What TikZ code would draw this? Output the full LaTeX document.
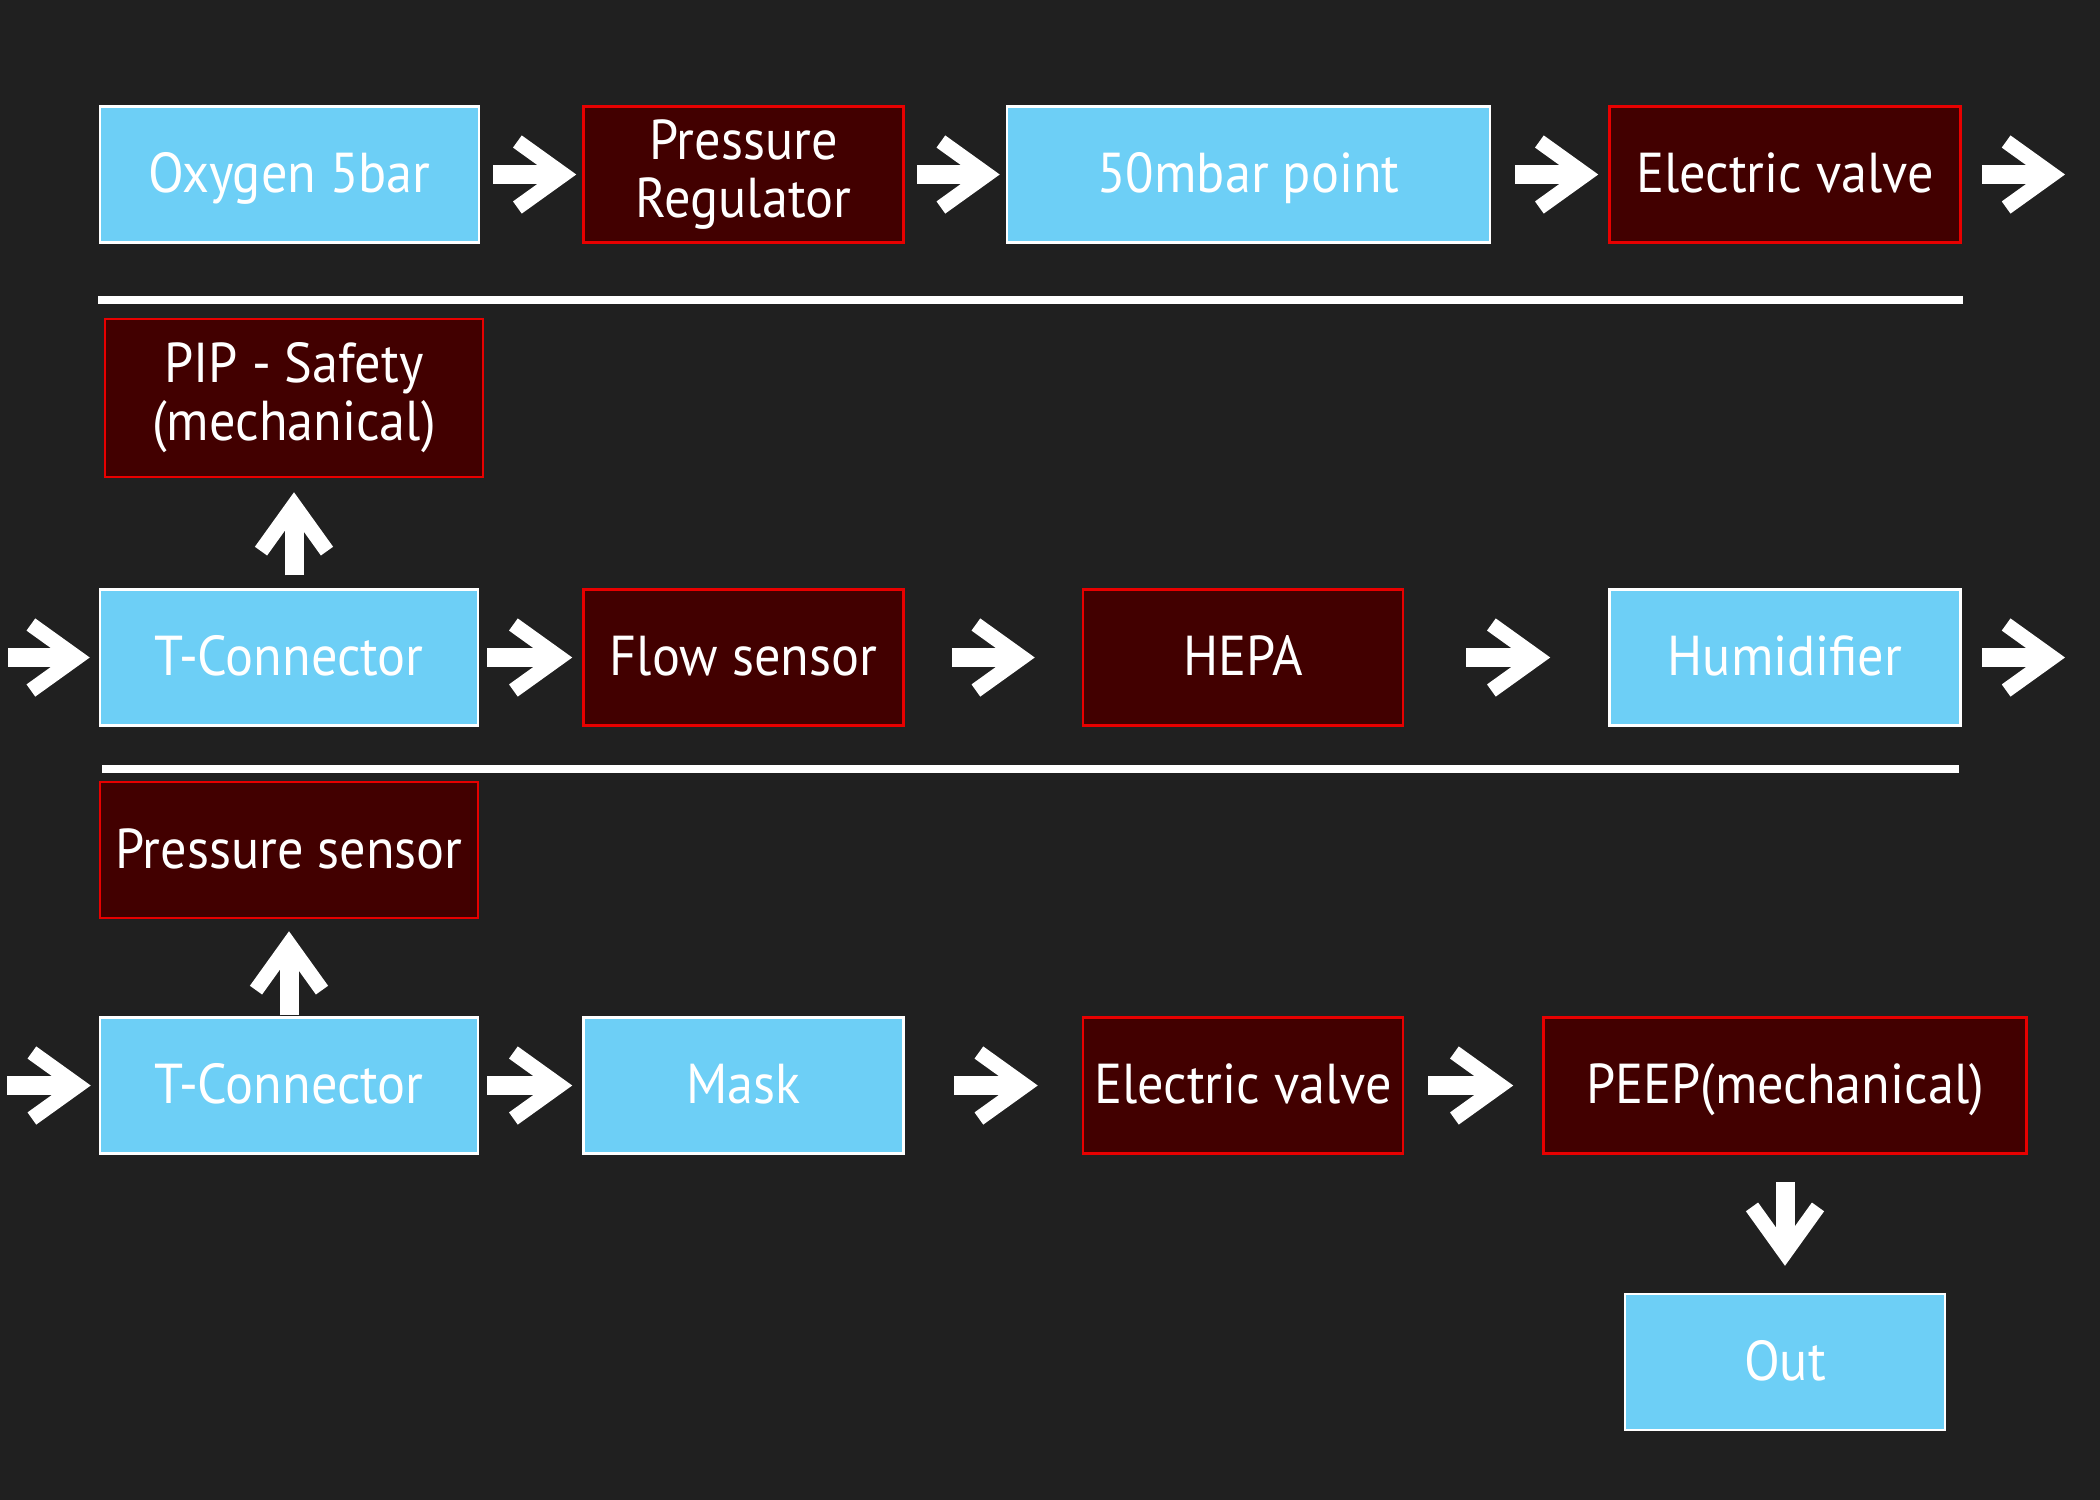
\documentclass[tikz,border=0pt]{standalone}
\usepackage{fontspec}
\setmainfont{PT Sans}[FakeStretch=0.93]
\usetikzlibrary{arrows.meta,positioning}
\definecolor{slate}{HTML}{202020}
\definecolor{skyfill}{HTML}{6DCFF6}
\definecolor{valvefill}{HTML}{420000}
\definecolor{rimred}{HTML}{E80000}

\begin{document}
\begin{tikzpicture}[>={Straight Barb[length=4.6mm,width=6.6mm,line width=1.5mm]},
  node distance=1.02cm,
  part/.style={rectangle, draw=white, fill=skyfill, line width=0.25mm, text=white,
    inner sep=0pt, minimum width=3.2cm, minimum height=1.36cm, align=center,
    text height=12pt, text depth=1.5pt, font=\fontsize{16}{16.5}\selectfont},
  unit/.style={part, draw=rimred, fill=valvefill},
  twoline/.style={text height=, text depth=},
  flow/.style={->, white, line width=1.9mm},
  rule/.style={white, line width=0.8mm}]

% background and page size
\fill[slate] (0,0) rectangle (21,-15);
\useasboundingbox (0,0) rectangle (21,-15);

% first row: supply
  \node[part, minimum width=3.79cm] (oxy) at (2.895,-1.745) {Oxygen 5bar};
  \node[unit, twoline] (preg) [right=of oxy] {Pressure\\Regulator};
  \node[part, minimum width=4.83cm] (mbar) [right=1.01cm of preg] {50mbar point};
  \node[unit, minimum width=3.51cm] (ev1) [right=1.17cm of mbar] {Electric valve};
  \coordinate (out1) at (20.65,-1.745);

% second row: inspiration
  \node[part, minimum width=3.78cm] (tc1) at (2.89,-6.575) {T-Connector};
  \node[unit, twoline, minimum width=3.78cm, minimum height=1.58cm] (pip) [above=1.10cm of tc1, xshift=0.05cm] {PIP - Safety\\(mechanical)};
  \node[unit] (fsens) [right=1.03cm of tc1] {Flow sensor};
  \node[unit] (hepa) [right=1.77cm of fsens] {HEPA};
  \node[part, minimum width=3.51cm] (humid) [right=2.04cm of hepa] {Humidifier};
  \coordinate (in1) at (0.08,-6.575);
  \coordinate (out2) at (20.65,-6.575);

% third row: patient side
  \node[part, minimum width=3.78cm] (tc2) at (2.89,-10.855) {T-Connector};
  \node[unit, minimum width=3.78cm] (psens) [above=0.97cm of tc2] {Pressure sensor};
  \node[part] (mask) [right=1.03cm of tc2] {Mask};
  \node[unit] (ev2) [right=1.77cm of mask] {Electric valve};
  \node[unit, minimum width=4.83cm] (peep) [right=1.38cm of ev2] {PEEP(mechanical)};
  \node[part] (out) [below=1.38cm of peep] {Out};
  \coordinate (in2) at (0.07,-10.855);

% separators
  \draw[rule] (0.98,-3.0) -- (19.63,-3.0);
  \draw[rule] (1.02,-7.69) -- (19.59,-7.69);

% define the links
  \draw[flow, shorten <=0.13cm, shorten >=0.06cm] (oxy) -- (preg);
  \draw[flow, shorten <=0.12cm, shorten >=0.06cm] (preg) -- (mbar);
  \draw[flow, shorten <=0.24cm, shorten >=0.10cm] (mbar) -- (ev1);
  \draw[flow, shorten <=0.20cm] (ev1) -- (out1);

  \draw[flow, shorten >=0.09cm] (in1) -- (tc1);
  \draw[flow, shorten <=0.13cm, shorten >=0.14cm] (pip.south |- tc1.north) -- (pip.south);
  \draw[flow, shorten <=0.08cm, shorten >=0.10cm] (tc1) -- (fsens);
  \draw[flow, shorten <=0.47cm, shorten >=0.47cm] (fsens) -- (hepa);
  \draw[flow, shorten <=0.62cm, shorten >=0.58cm] (hepa) -- (humid);
  \draw[flow, shorten <=0.20cm] (humid) -- (out2);

  \draw[flow, shorten >=0.08cm] (in2) -- (tc2);
  \draw[flow, shorten <=0.01cm, shorten >=0.12cm] (psens.south |- tc2.north) -- (psens.south);
  \draw[flow, shorten <=0.08cm, shorten >=0.10cm] (tc2) -- (mask);
  \draw[flow, shorten <=0.49cm, shorten >=0.44cm] (mask) -- (ev2);
  \draw[flow, shorten <=0.24cm, shorten >=0.29cm] (ev2) -- (peep);
  \draw[flow, shorten <=0.27cm, shorten >=0.27cm] (peep) -- (out);

\end{tikzpicture}
\end{document}
